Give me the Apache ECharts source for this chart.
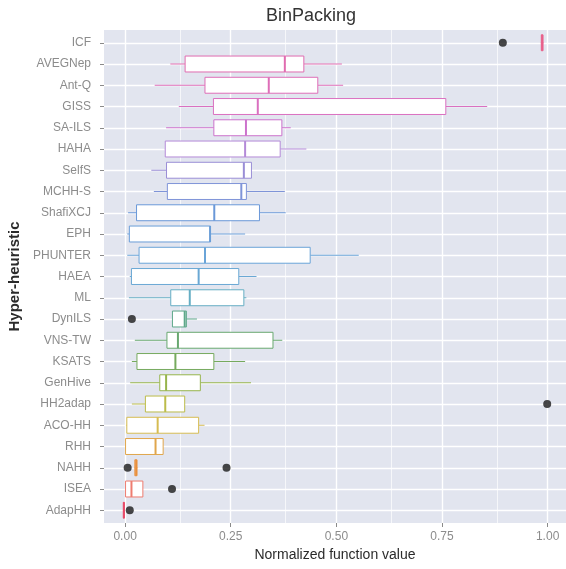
<!DOCTYPE html>
<html>
<head>
<meta charset="utf-8">
<script src="https://cdn.jsdelivr.net/npm/echarts@6/dist/echarts.min.js"></script>
<style>html,body{margin:0;padding:0;background:#fff}#c{width:566px;height:569px}</style>
</head>
<body>
<div id="c"></div>
<script>
// Categories listed top to bottom
const categories = ["ICF","AVEGNep","Ant-Q","GISS","SA-ILS","HAHA","SelfS","MCHH-S","ShafiXCJ","EPH","PHUNTER","HAEA","ML","DynILS","VNS-TW","KSATS","GenHive","HH2adap","ACO-HH","RHH","NAHH","ISEA","AdapHH"];
// Box statistics (top to bottom): lower whisker, Q1, median, Q3, upper whisker
const lowWhisker = [0.984,0.107,0.070,0.127,0.097,0.094,0.062,0.068,0.007,0.005,0.005,0.011,0.009,0.112,0.023,0.016,0.012,0.016,0.002,0.001,0.022,0.001,-0.004];
const q1Values   = [0.985,0.142,0.189,0.209,0.210,0.095,0.098,0.100,0.027,0.010,0.033,0.015,0.108,0.112,0.099,0.028,0.082,0.048,0.004,0.001,0.023,0.001,-0.004];
const medians    = [0.987,0.378,0.340,0.314,0.286,0.284,0.281,0.275,0.211,0.201,0.189,0.174,0.153,0.141,0.125,0.119,0.097,0.095,0.077,0.072,0.026,0.015,-0.003];
const q3Values   = [0.989,0.423,0.456,0.759,0.371,0.367,0.299,0.287,0.318,0.202,0.438,0.269,0.281,0.145,0.350,0.210,0.178,0.141,0.174,0.090,0.028,0.042,-0.002];
const highWhisker= [0.990,0.513,0.516,0.857,0.392,0.429,0.299,0.378,0.380,0.284,0.553,0.311,0.287,0.170,0.372,0.284,0.298,0.141,0.188,0.090,0.029,0.042,-0.002];
// Outliers: [category, value]
const outlierCats = ["ICF","DynILS","HH2adap","NAHH","NAHH","ISEA","AdapHH"];
const outlierVals = [0.894,0.016,0.999,0.006,0.240,0.111,0.011];
const xTicks = [0, 0.25, 0.5, 0.75, 1.0];
const xMinor = [0.125, 0.375, 0.625, 0.875];

// Box colours, top to bottom (as they appear in the reference)
const boxColors = ["#e8608a","#e06cb0","#de6eb8","#da70c0","#cc72cc","#b48ad8","#9a8ed6","#7f94d8","#6a98d8","#6a9ed8","#6aa4d8","#6aa8d4","#66aec4","#5ea88a","#68a870","#76aa5e","#96b44c","#bcbc4a","#d6bc52","#e0a64c","#e88f3c","#ee7c70","#e84c6a"];

const n = categories.length;
const posOf = name => n - categories.indexOf(name); // bottom category = 1

const boxData = categories.map((c, i) => [n - i, lowWhisker[i], q1Values[i], medians[i], q3Values[i], highWhisker[i]]);
const outData = outlierCats.map((c, i) => [outlierVals[i], posOf(c)]);

function renderItem(params, api) {
  const yv = api.value(0);
  const lo = api.coord([api.value(1), yv]);
  const a = api.coord([api.value(2), yv]);
  const m = api.coord([api.value(3), yv]);
  const b = api.coord([api.value(4), yv]);
  const hi = api.coord([api.value(5), yv]);
  const h = api.size([0, 1])[1] * 0.75;
  const col = boxColors[params.dataIndex];
  return {
    type: 'group',
    children: [
      {type: 'line', shape: {x1: lo[0], y1: lo[1], x2: a[0], y2: a[1]}, style: {stroke: col, lineWidth: 1}},
      {type: 'line', shape: {x1: b[0], y1: b[1], x2: hi[0], y2: hi[1]}, style: {stroke: col, lineWidth: 1}},
      {type: 'rect', shape: {x: a[0], y: a[1] - h / 2, width: Math.max(b[0] - a[0], 0.5), height: h}, style: {fill: '#ffffff', stroke: col, lineWidth: 1}},
      {type: 'line', shape: {x1: m[0], y1: m[1] - h / 2, x2: m[0], y2: m[1] + h / 2}, style: {stroke: col, lineWidth: 2}}
    ]
  };
}

const yCustom = [];
for (let i = 1; i <= n; i++) yCustom.push(i);

const chart = echarts.init(document.getElementById('c'), null, {renderer: 'canvas'});
chart.setOption({
  animation: false,
  backgroundColor: '#ffffff',
  title: {
    text: 'BinPacking', left: 306, top: 2, textAlign: 'center',
    textStyle: {fontFamily: 'Liberation Sans', fontSize: 18, fontWeight: 'normal', color: '#333333'}
  },
  grid: {left: 104, right: 0, top: 30, bottom: 46, show: true, backgroundColor: '#e2e5ef', borderWidth: 0,
    containLabel: false, outerBoundsMode: 'none'},
  xAxis: {
    type: 'value', min: -0.05, max: 1.0435,
    name: 'Normalized function value', nameLocation: 'middle', nameGap: 24,
    nameTextStyle: {fontFamily: 'Liberation Sans', fontSize: 14, color: '#2b2b2b'},
    axisLine: {show: false, onZero: false},
    axisTick: {show: true, length: 4, lineStyle: {color: '#8a8a8a'}, customValues: xTicks},
    axisLabel: {customValues: xTicks, margin: 8, fontFamily: 'Liberation Sans', fontSize: 12, color: '#8c8c8c',
      formatter: v => v.toFixed(2)},
    splitLine: {show: true, lineStyle: {color: '#ffffff', width: 1.4}}
  },
  yAxis: {
    type: 'value', min: 0.4, max: n + 0.6,
    name: 'Hyper-heuristic', nameLocation: 'middle', nameGap: 79, nameRotate: 90,
    nameTextStyle: {fontFamily: 'Liberation Sans', fontSize: 15, fontWeight: 'bold', color: '#2b2b2b'},
    axisLine: {show: false, onZero: false},
    axisTick: {show: true, length: 4, lineStyle: {color: '#8a8a8a'}, customValues: yCustom},
    axisLabel: {customValues: yCustom, margin: 13, fontFamily: 'Liberation Sans', fontSize: 12, color: '#8c8c8c',
      formatter: v => categories[n - Math.round(v)]},
    splitLine: {show: true, lineStyle: {color: '#ffffff', width: 1.4}}
  },
  series: [
    {
      type: 'line', data: [], silent: true, z: 1,
      markLine: {
        silent: true, symbol: 'none', z: 1, animation: false,
        label: {show: false},
        lineStyle: {color: '#ffffff', width: 0.7, type: 'solid'},
        data: xMinor.map(v => ({xAxis: v}))
      }
    },
    {
      type: 'custom', renderItem: renderItem, data: boxData, z: 3,
      encode: {x: [1, 2, 3, 4, 5], y: 0}
    },
    {
      type: 'scatter', data: outData, symbol: 'circle', symbolSize: 8, z: 4,
      itemStyle: {color: '#1a1a1a'}
    }
  ]
});
</script>
</body>
</html>
